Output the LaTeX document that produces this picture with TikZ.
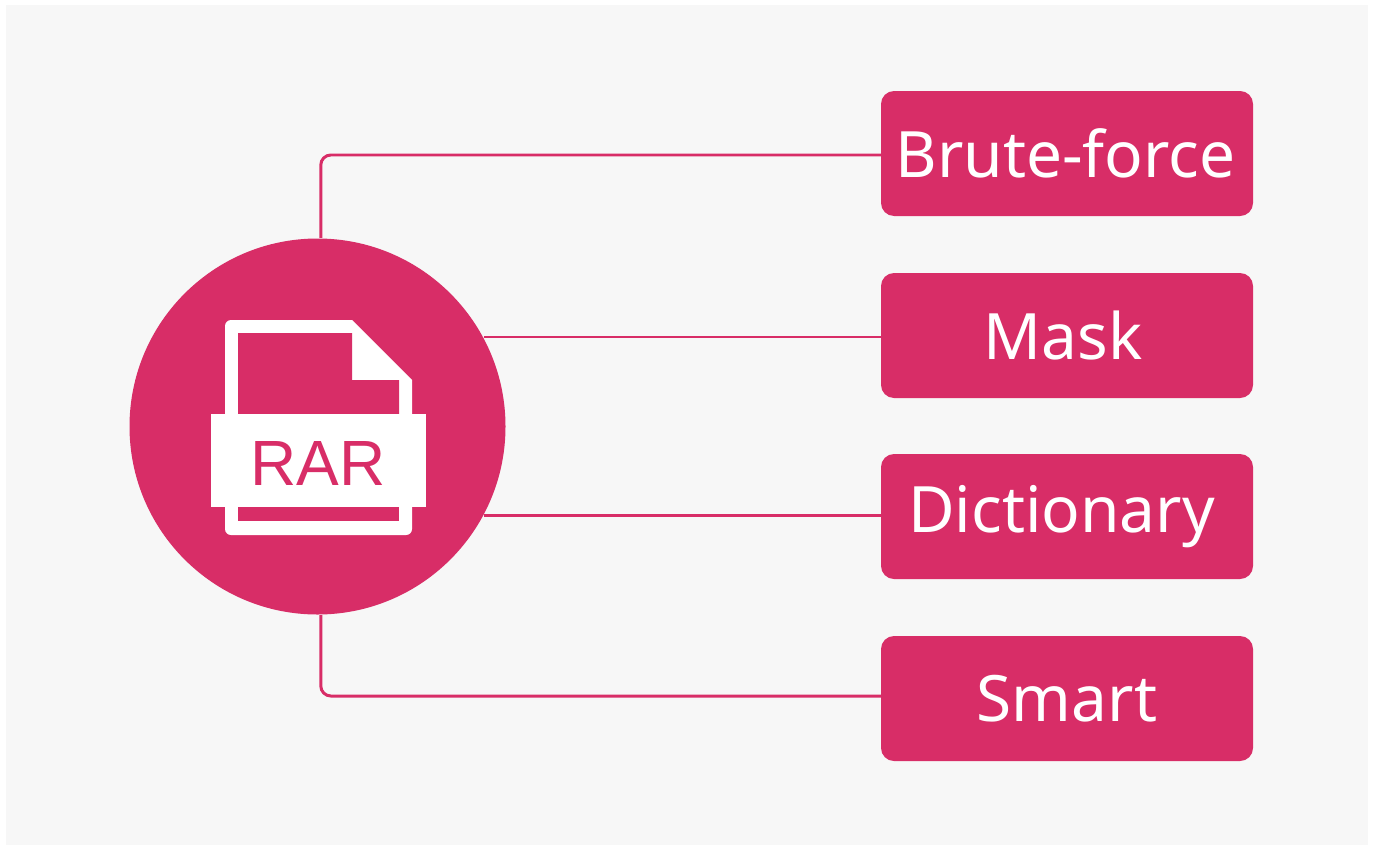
\documentclass[tikz,border=0pt]{standalone}
\usepackage{fontspec}
\setmainfont{Noto Sans}
\newfontfamily\iconfont{Liberation Sans}
\usepackage{xcolor}
\definecolor{rarpink}{HTML}{D82D67}
\definecolor{panelgrey}{HTML}{F7F7F7}
\tikzset{
    methodbox/.style={fill=rarpink, text=white, rounded corners=0.13cm, minimum width=3.72cm, minimum height=1.25cm, inner sep=0pt, font=\fontsize{18.2}{23}\selectfont},
    wire/.style={draw=rarpink, line width=0.85pt, rounded corners=0.1cm}
}

\begin{document}
\begin{tikzpicture}
    \useasboundingbox (0, 0) rectangle (13.81, 8.45);

    % Grey panel behind everything
    \fill[panelgrey] (0.06, 0) rectangle (13.68, 8.40);

    % Circle on the left
    \node[circle, fill=rarpink, minimum size=3.76cm, inner sep=0pt] (hub) at (3.175, 4.185) {};

    % File icon inside the circle
    \fill[white] (3.52, 5.25) -- (4.12, 4.65) [rounded corners=0.06cm] -- (4.12, 3.10) -- (2.25, 3.10) -- (2.25, 5.25) [sharp corners] -- cycle;
    \fill[rarpink] (2.38, 4.20) -- (2.38, 5.12) -- (3.52, 5.12) -- (3.52, 4.65) -- (3.99, 4.65) -- (3.99, 4.20) -- cycle;
    \fill[rarpink] (2.38, 3.24) rectangle (3.99, 3.40);
    \fill[white] (2.11, 3.38) rectangle (4.26, 4.31);
    \node[text=rarpink, inner sep=0pt, font=\iconfont\fontsize{18.2}{23}\selectfont] (rarlabel) at (3.18, 3.82) {RAR};

    % Boxes on the right
    \node[methodbox] (bruteforce) at (10.67, 6.915) {\hspace{-0.03cm}\raisebox{-0.09cm}{Brute-force}};
    \node[methodbox] (mask) at (10.67, 5.095) {\hspace{-0.08cm}\raisebox{-0.09cm}{Mask}};
    \node[methodbox] (dictionary) at (10.67, 3.285) {\hspace{-0.11cm}Dictionary};
    \node[methodbox] (smart) at (10.67, 1.465) {\raisebox{-0.09cm}{Smart}};

    % Where the lines meet the boxes
    \coordinate (bruteforcepin) at (8.81, 6.90);
    \coordinate (maskpin) at (8.81, 5.08);
    \coordinate (dictionarypin) at (8.81, 3.30);
    \coordinate (smartpin) at (8.81, 1.49);

    % Lines
    \draw[wire] (hub.89) |- (bruteforcepin);
    \draw[wire] (maskpin -| hub.28) -- (maskpin);
    \draw[wire] (dictionarypin -| hub.-28) -- (dictionarypin);
    \draw[wire] (hub.-89) |- (smartpin);

\end{tikzpicture}
\end{document}
